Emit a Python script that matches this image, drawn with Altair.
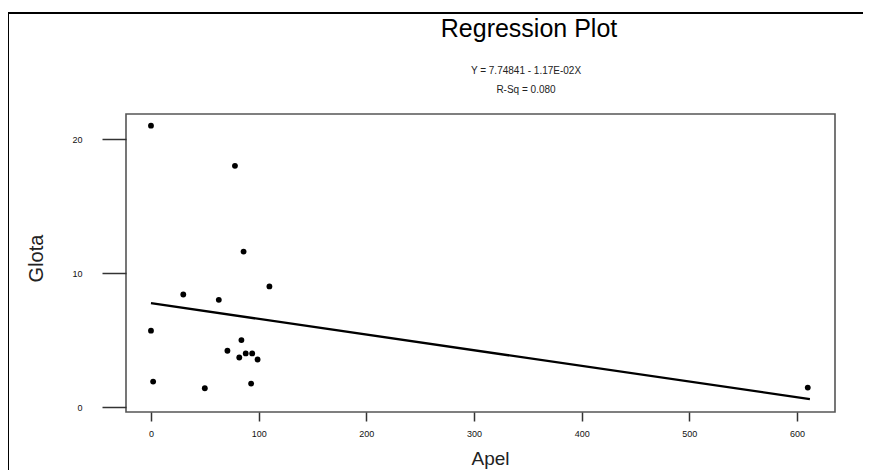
import altair as alt
import pandas as pd

# data
apel = [0, 78, 86, 110, 30, 63, 0, 84, 71, 82, 88, 94, 99, 2, 50, 93, 610]
glota = [21.0, 18.0, 11.6, 9.0, 8.4, 8.0, 5.7, 5.0, 4.2, 3.7, 4.0, 4.0, 3.55, 1.9, 1.4, 1.75, 1.45]

fit_x = [0, 612]
fit_y = [7.75, 0.59]

x_ticks = [0, 100, 200, 300, 400, 500, 600]
y_ticks = [0, 10, 20]

title_text = "Regression Plot"
subtitle_lines = ["Y = 7.74841 - 1.17E-02X", "R-Sq = 0.080"]

pts = pd.DataFrame({"Apel": apel, "Glota": glota})
fit = pd.DataFrame({"Apel": fit_x, "Glota": fit_y})

FONT = "Liberation Sans"

xscale = alt.Scale(domain=[-23.2, 635.3], nice=False, zero=False)
yscale = alt.Scale(domain=[-0.37, 21.87], nice=False, zero=False)

xaxis = alt.Axis(values=x_ticks, grid=False, domain=False, tickSize=9, tickWidth=1.5,
                 tickColor="#333", labelPadding=8, labelFontSize=9, labelFont=FONT,
                 labelColor="#111", title="Apel", titleFont=FONT, titleFontSize=19,
                 titleFontWeight="normal", titleColor="#222", titlePadding=11, titleX=364)
yaxis = alt.Axis(values=y_ticks, grid=False, domain=False, tickSize=24, tickWidth=1.5,
                 tickColor="#333", labelPadding=20, labelFontSize=9, labelFont=FONT,
                 labelColor="#111", title="Glota", titleFont=FONT, titleFontSize=20,
                 titleFontWeight="normal", titleColor="#222", titlePadding=25, titleY=144)

points = alt.Chart(pts).mark_point(filled=True, shape="circle", size=34, color="black", opacity=1).encode(
    x=alt.X("Apel:Q", scale=xscale, axis=xaxis),
    y=alt.Y("Glota:Q", scale=yscale, axis=yaxis),
)

line = alt.Chart(fit).mark_line(color="black", strokeWidth=2.3).encode(
    x=alt.X("Apel:Q", scale=xscale),
    y=alt.Y("Glota:Q", scale=yscale),
)

one = pd.DataFrame({"a": [0]})

# outer figure frame (decoration)
frame_top = alt.Chart(one).mark_rule(color="black", strokeWidth=2).encode(
    x=alt.value(-121), x2=alt.value(760), y=alt.value(-101))
frame_left = alt.Chart(one).mark_rule(color="black", strokeWidth=2).encode(
    x=alt.value(-118), y=alt.value(-101), y2=alt.value(370))

# title block
title = alt.Chart(one).mark_text(text=title_text, font=FONT, fontSize=25, color="black",
                                 align="center", baseline="alphabetic").encode(
    x=alt.value(403), y=alt.value(-77))
sub1 = alt.Chart(one).mark_text(text=subtitle_lines[0], font=FONT, fontSize=10, color="#222",
                                align="center", baseline="alphabetic").encode(
    x=alt.value(400), y=alt.value(-40))
sub2 = alt.Chart(one).mark_text(text=subtitle_lines[1], font=FONT, fontSize=10, color="#222",
                                align="center", baseline="alphabetic").encode(
    x=alt.value(400), y=alt.value(-21.5))

chart = alt.layer(frame_top, frame_left, title, sub1, sub2, line, points).properties(
    width=709, height=298,
    autosize=alt.AutoSizeParams(type="none"),
    padding={"left": 118, "top": 106, "right": 28, "bottom": 58},
).configure(background="white").configure_view(stroke="#555", strokeWidth=1.6)

chart.save("out.html", embed_options={"renderer": "svg", "actions": False})
